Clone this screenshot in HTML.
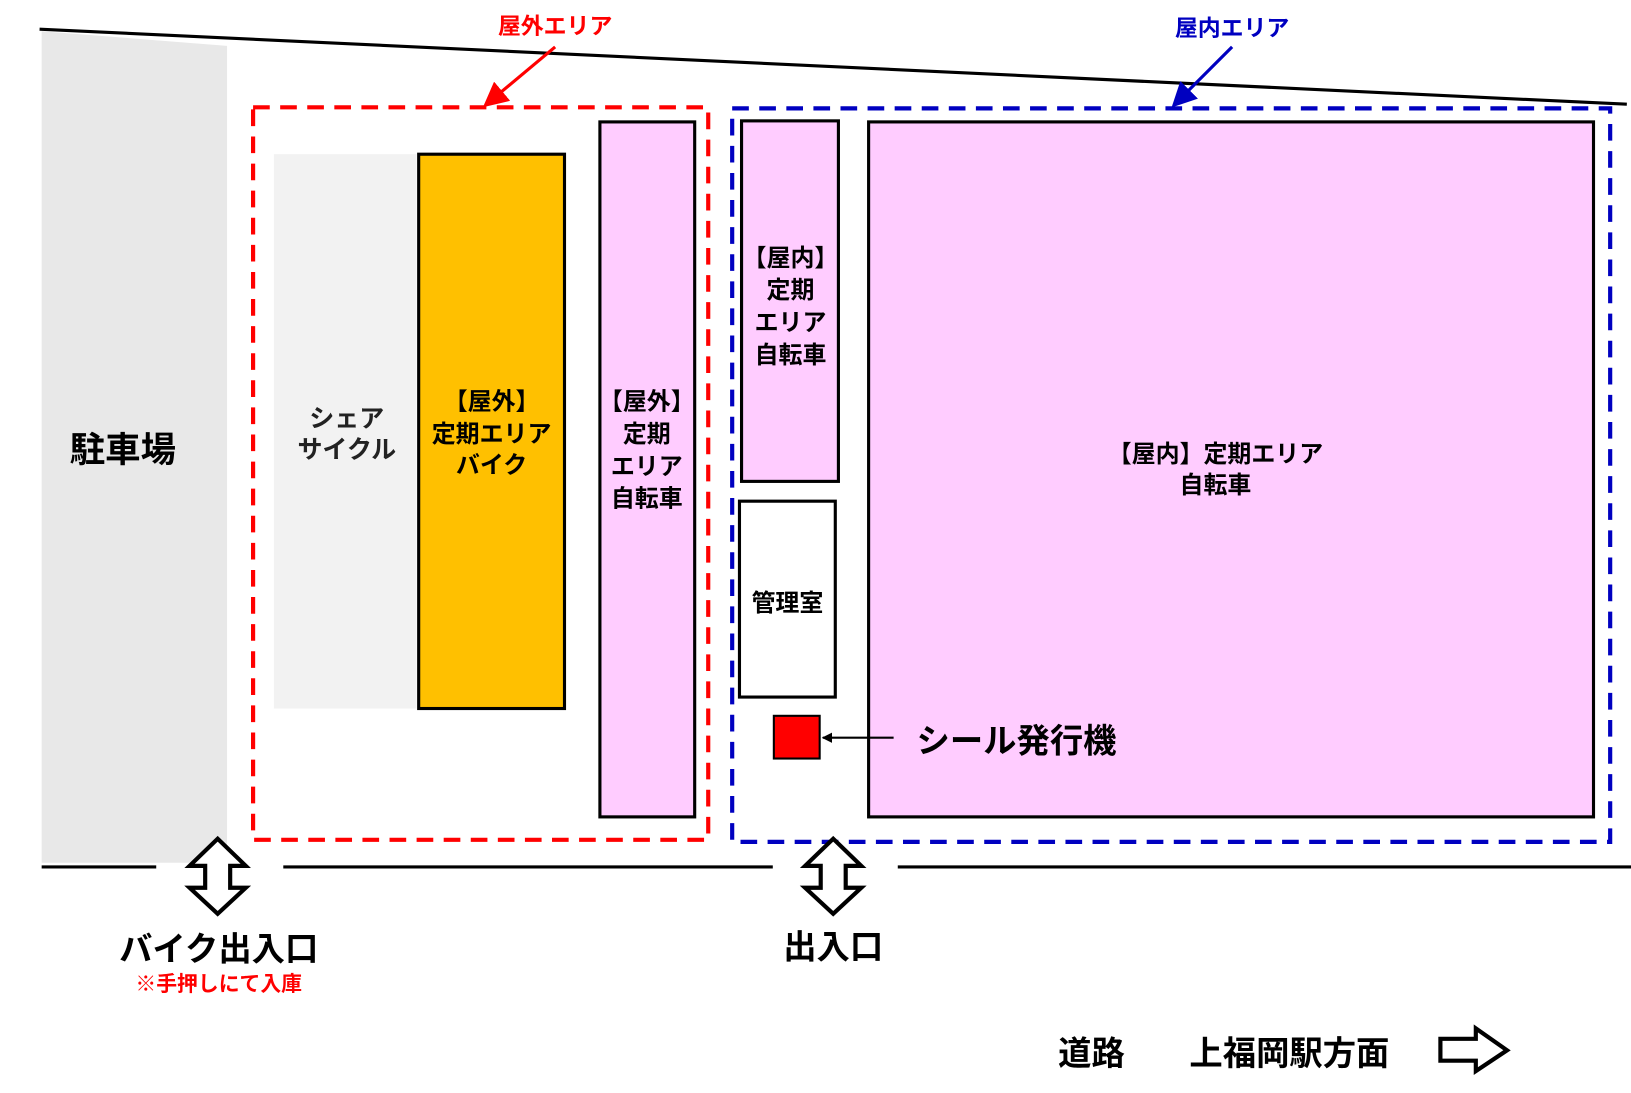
<!DOCTYPE html>
<html><head><meta charset="utf-8"><style>
html,body{margin:0;padding:0;background:#fff;width:1631px;height:1093px;overflow:hidden}
svg{display:block}
text{font-family:"Liberation Sans","Noto Sans CJK JP",sans-serif;font-weight:bold;text-anchor:middle;dominant-baseline:central}
</style></head><body>
<svg width="1631" height="1093" viewBox="0 0 1566 1049" preserveAspectRatio="none" xmlns="http://www.w3.org/2000/svg">
<defs>
<marker id="ar" markerWidth="8" markerHeight="8" refX="7" refY="4" orient="auto" markerUnits="strokeWidth"><path d="M0,0 L8,4 L0,8 z" fill="context-stroke"/></marker>
<marker id="ar2" markerWidth="10" markerHeight="10" refX="9" refY="5" orient="auto" markerUnits="userSpaceOnUse"><path d="M0,0 L10,5 L0,10 z" fill="#000"/></marker>
</defs>
<polygon points="40,30 218,44 218,828 40,828" fill="#e8e8e8"/>
<line x1="38" y1="28" x2="1562" y2="100" stroke="#000" stroke-width="3"/>
<text x="118" y="432" font-size="34" fill="#000">駐車場</text>

<text x="533" y="25" font-size="22" fill="#f00">屋外エリア</text>
<line x1="533" y1="45" x2="466" y2="101" stroke="#f00" stroke-width="3" marker-end="url(#ar)"/>
<text x="1183" y="27" font-size="22" fill="#0000c0">屋内エリア</text>
<line x1="1183" y1="45" x2="1127" y2="101" stroke="#0000c0" stroke-width="3" marker-end="url(#ar)"/>

<rect x="263" y="148" width="137" height="532" fill="#f2f2f2"/>
<text x="333" y="402" font-size="24" fill="#222">シェア</text>
<text x="333" y="432" font-size="24" fill="#222">サイクル</text>

<rect x="402" y="148" width="140" height="532" fill="#ffc000" stroke="#000" stroke-width="3"/>
<text x="472" y="386" font-size="23">【屋外】</text>
<text x="472" y="417" font-size="23">定期エリア</text>
<text x="472" y="447" font-size="23">バイク</text>

<rect x="576" y="117" width="91" height="667" fill="#ffccff" stroke="#000" stroke-width="3"/>
<text x="621" y="386" font-size="23">【屋外】</text>
<text x="621" y="417" font-size="23">定期</text>
<text x="621" y="448" font-size="23">エリア</text>
<text x="621" y="479" font-size="23">自転車</text>

<rect x="243" y="103" width="437" height="703" fill="none" stroke="#f00" stroke-width="4" stroke-dasharray="16 10"/>

<rect x="712" y="116" width="93" height="346" fill="#ffccff" stroke="#000" stroke-width="3"/>
<text x="759" y="248" font-size="23">【屋内】</text>
<text x="759" y="279" font-size="23">定期</text>
<text x="759" y="310" font-size="23">エリア</text>
<text x="759" y="341" font-size="23">自転車</text>

<rect x="710" y="481" width="92" height="188" fill="#fff" stroke="#000" stroke-width="3"/>
<text x="756" y="579" font-size="23">管理室</text>

<rect x="834" y="117" width="696" height="667" fill="#ffccff" stroke="#000" stroke-width="3"/>
<text x="1167" y="436" font-size="23">【屋内】定期エリア</text>
<text x="1167" y="466" font-size="23">自転車</text>

<rect x="743" y="687" width="44" height="41" fill="#f00" stroke="#000" stroke-width="2"/>
<line x1="858" y1="708" x2="790" y2="708" stroke="#000" stroke-width="2" marker-end="url(#ar2)"/>
<text x="976" y="712" font-size="32">シール発行機</text>

<rect x="703" y="104" width="843" height="704" fill="none" stroke="#0000c0" stroke-width="4" stroke-dasharray="16 10"/>

<line x1="40" y1="832" x2="150" y2="832" stroke="#000" stroke-width="3"/>
<line x1="272" y1="832" x2="742" y2="832" stroke="#000" stroke-width="3"/>
<line x1="862" y1="832" x2="1566" y2="832" stroke="#000" stroke-width="3"/>

<g fill="#fff" stroke="#000" stroke-width="4" stroke-linejoin="miter">
<path d="M209,805 L236,831 L221,831 L221,852 L236,852 L209,877 L182,852 L197,852 L197,831 L182,831 Z"/>
<path d="M800,805 L827,831 L812,831 L812,852 L827,852 L800,877 L773,852 L788,852 L788,831 L773,831 Z"/>
<path d="M1383,997 L1417,997 L1417,987 L1447,1008 L1417,1028 L1417,1018 L1383,1018 Z"/>
</g>

<text x="210" y="912" font-size="32">バイク出入口</text>
<text x="210" y="945" font-size="20" fill="#f00">※手押しにて入庫</text>
<text x="800" y="910" font-size="32">出入口</text>
<text x="1048" y="1012" font-size="32">道路</text>
<text x="1238" y="1012" font-size="32">上福岡駅方面</text>
</svg>
</body></html>
